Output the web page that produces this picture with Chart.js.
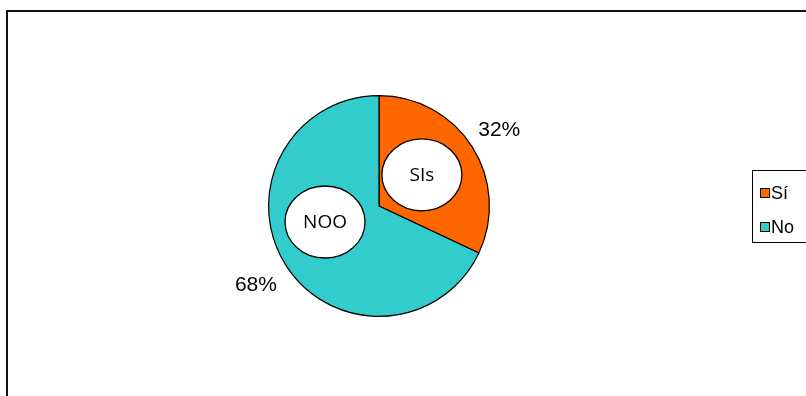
<!DOCTYPE html>
<html>
<head>
<meta charset="utf-8">
<script src="https://cdn.jsdelivr.net/npm/chart.js@4.4.0/dist/chart.umd.min.js"></script>
<style>
html,body{margin:0;padding:0;background:#fff;}
#wrap{position:relative;width:806px;height:396px;overflow:hidden;}
#frame{position:absolute;left:6px;top:10px;width:900px;height:500px;border-top:2px solid #111;border-left:2px solid #111;box-sizing:border-box;}
canvas{position:absolute;left:0;top:0;}
.pre{position:absolute;left:-999px;top:-999px;}
</style>
</head>
<body>
<span class="pre" style="font-family:'Liberation Sans'">a</span>
<span class="pre" style="font-family:'Open Sans'">a</span>
<div id="wrap">
<div id="frame"></div>
<canvas id="c" width="806" height="396"></canvas>
</div>
<script>
const categories = ["Sí", "No"];
const values = [32, 68];
const pctLabels = ["32%", "68%"];
const calloutTexts = ["SIs", "NOO"];
const colors = ["#FF6600", "#33CCCC"];

const overlay = {
  id: 'overlay',
  afterDatasetsDraw(chart) {
    const ctx = chart.ctx;
    const meta = chart.getDatasetMeta(0);
    ctx.save();
    ctx.fillStyle = '#000';
    ctx.font = '21px "Liberation Sans"';
    ctx.textAlign = 'center';
    ctx.textBaseline = 'middle';
    const labelR = [1.29, 1.32];
    const calloutPos = [[-36, 0.48], [163.5, 0.51]];
    meta.data.forEach((arc, i) => {
      const p = arc.getProps(['x','y','startAngle','endAngle','outerRadius'], true);
      const mid = (p.startAngle + p.endAngle) / 2;
      const r = p.outerRadius * labelR[i];
      ctx.fillText(pctLabels[i], p.x + Math.cos(mid) * r, p.y + Math.sin(mid) * r + 1);
    });
    const a0 = meta.data[0].getProps(['x','y','outerRadius'], true);
    calloutPos.forEach((cp, i) => {
      const ang = cp[0] * Math.PI / 180;
      const cx = a0.x + Math.cos(ang) * a0.outerRadius * cp[1];
      const cy = a0.y + Math.sin(ang) * a0.outerRadius * cp[1];
      ctx.beginPath();
      ctx.ellipse(cx, cy, 40, 36, 0, 0, Math.PI * 2);
      ctx.fillStyle = '#fff';
      ctx.fill();
      ctx.lineWidth = 1.3;
      ctx.strokeStyle = '#000';
      ctx.stroke();
      ctx.fillStyle = '#000';
      ctx.font = '19px "Open Sans"';
      ctx.fillText(calloutTexts[i], cx, cy + 1);
    });
    const lx = 752, ly = 170;
    ctx.lineWidth = 1;
    ctx.strokeStyle = '#000';
    ctx.strokeRect(lx + 0.5, ly + 0.5, 200, 72);
    ctx.font = '18px "Liberation Sans"';
    ctx.textAlign = 'left';
    categories.forEach((c, i) => {
      const y = ly + 23 + i * 34;
      ctx.fillStyle = colors[i];
      ctx.fillRect(lx + 8, y - 4, 9, 9);
      ctx.strokeRect(lx + 8.5, y - 4.5, 9, 9);
      ctx.fillStyle = '#000';
      ctx.fillText(c, lx + 19, y + 1);
    });
    ctx.restore();
  }
};

function draw() {
  new Chart(document.getElementById('c'), {
    type: 'pie',
    data: {
      labels: categories,
      datasets: [{
        data: values,
        backgroundColor: colors,
        borderColor: '#000',
        borderWidth: 1.2
      }]
    },
    options: {
      responsive: false,
      animation: false,
      layout: { padding: { left: 268, right: 316, top: 95, bottom: 79 } },
      plugins: { legend: { display: false }, tooltip: { enabled: false } }
    },
    plugins: [overlay]
  });
}
Promise.all([
  document.fonts.load('21px "Liberation Sans"'),
  document.fonts.load('19px "Open Sans"')
]).then(draw, draw);
</script>
</body>
</html>
